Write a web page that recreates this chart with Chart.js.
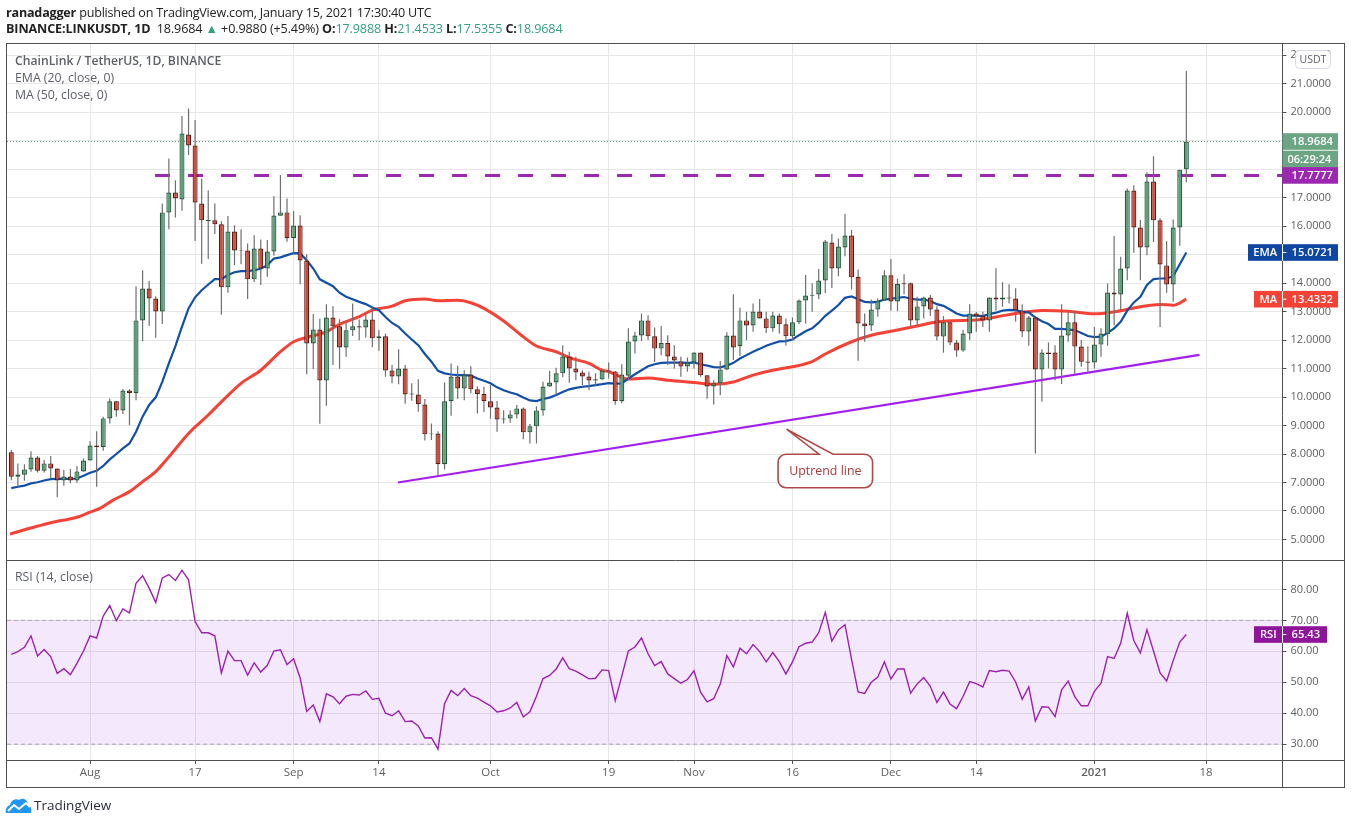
<!DOCTYPE html>
<html>
<head>
<meta charset="utf-8">
<style>
html,body{margin:0;padding:0;background:#fff;width:1351px;height:824px;overflow:hidden}
canvas{position:absolute;left:0;top:0}
.t{position:absolute;white-space:nowrap;font-family:"Open Sans",sans-serif;line-height:16px;z-index:2}
.hd{font-size:12.6px;color:#222}
.lg{font-size:12.3px;color:#5d6068}
.gr{color:#35a07c}
b{font-weight:700}
</style>
<script src="https://cdn.jsdelivr.net/npm/chart.js@4/dist/chart.umd.min.js"></script>
</head>
<body>
<canvas id="c" width="1351" height="824"></canvas>
<div class="t hd" style="left:6px;top:5px;letter-spacing:-0.21px"><b>ranadagger</b> published on TradingView.com, January 15, 2021 17:30:40 UTC</div>
<div class="t hd" style="left:6px;top:21px;letter-spacing:-0.12px"><b>BINANCE:LINKUSDT, 1D</b>&nbsp; 18.9684 <span class="gr">▲</span> +0.9880 (+5.49%) <b>O:</b><span class="gr">17.9888</span> <b>H:</b><span class="gr">21.4533</span> <b>L:</b><span class="gr">17.5355</span> <b>C:</b><span class="gr">18.9684</span></div>
<div class="t lg" style="left:15px;top:53px;font-weight:600;font-size:12.2px">ChainLink / TetherUS, 1D, BINANCE</div>
<div class="t lg" style="left:15px;top:70px">EMA (20, close, 0)</div>
<div class="t lg" style="left:15px;top:87px">MA (50, close, 0)</div>
<div class="t lg" style="left:15px;top:569px">RSI (14, close)</div>
<svg style="position:absolute;left:5px;top:797px;z-index:2" width="28" height="18" viewBox="0 0 28 18">
<path d="M1 16 C0 12 2 9 5 8 C6 3 11 1 14 3 C18 0 23 3 23 8 C26 9 27 13 26 16 Z" fill="#2196f3"/>
<path d="M3 14 L9 8 L14 12 L21 6 L25 10" fill="none" stroke="#fff" stroke-width="2"/>
</svg>
<div class="t" style="left:34px;top:797px;font-size:13.5px;color:#2a2e39">TradingView</div>
<script>
const tickDays=[12,28,43,56,73,91,104,119,134,147,165,182];
const tickLabels=['Aug','17','Sep','14','Oct','19','Nov','16','Dec','14','2021','18'];
const priceTicks=[5,6,7,8,9,10,11,12,13,14,15,16,17,18,19,20,21,22];
const rsiTicks=[30,40,50,60,70,80];

const opens=[8.06,7.20,7.27,7.46,7.88,7.41,7.67,7.49,7.07,7.21,
7.07,7.39,7.77,8.30,8.25,9.25,9.85,9.53,10.23,10.13,
12.69,13.81,13.46,13.00,16.48,17.18,16.93,19.21,18.83,16.79,
16.18,16.20,16.06,13.85,15.81,15.15,15.14,14.13,15.21,14.51,
15.11,16.36,16.48,15.57,16.02,14.79,11.88,12.37,10.58,12.79,
12.48,11.74,12.34,12.48,12.44,12.72,12.06,12.13,10.93,10.72,
11.00,10.09,10.09,9.74,8.69,8.72,7.64,9.85,10.72,10.30,
10.79,10.27,10.11,9.85,9.63,9.21,9.25,9.39,9.60,8.76,
8.97,9.53,10.37,10.51,10.83,11.42,11.00,10.86,10.72,10.58,
10.62,10.93,10.90,9.85,10.75,11.95,12.16,12.69,12.13,11.70,
11.90,11.42,11.25,11.07,11.21,11.56,10.76,10.37,10.48,10.97,
12.16,11.78,12.69,12.51,13.00,12.76,12.41,12.86,12.55,12.13,
12.62,13.39,13.55,13.60,14.09,15.42,14.51,15.25,15.67,14.22,
12.58,12.51,13.07,13.39,14.27,13.35,13.99,13.99,12.69,13.18,
13.49,13.07,12.12,12.62,11.91,11.63,12.23,12.93,12.86,12.69,
13.49,13.42,13.49,13.46,13.04,12.30,12.79,10.97,11.56,11.56,
10.97,12.16,12.62,11.77,11.25,11.21,11.84,12.20,13.67,13.60,
14.51,17.25,15.95,15.25,17.56,16.20,14.62,13.95,15.95,17.99];

const closes=[7.20,7.28,7.46,7.88,7.41,7.67,7.49,7.07,7.21,7.07,
7.39,7.77,8.30,8.25,9.25,9.85,9.53,10.23,10.13,12.69,
13.81,13.46,13.00,16.48,17.18,16.97,19.25,18.83,16.83,16.20,
16.21,16.06,13.85,15.81,15.14,15.13,14.13,15.21,14.51,15.11,
16.37,16.48,15.57,16.02,14.79,11.88,12.37,10.58,12.79,12.48,
11.74,12.34,12.48,12.44,12.72,12.06,12.13,10.93,10.72,11.00,
10.09,10.12,9.75,8.69,8.72,7.64,9.85,10.72,10.30,10.79,
10.27,10.11,9.85,9.63,9.21,9.25,9.39,9.60,8.76,8.97,
9.53,10.37,10.51,10.83,11.42,11.00,10.86,10.72,10.58,10.62,
10.93,10.90,9.85,10.79,11.95,12.16,12.69,12.13,11.70,11.90,
11.42,11.28,11.07,11.21,11.56,10.76,10.37,10.48,10.97,12.16,
11.74,12.69,12.51,13.00,12.76,12.41,12.86,12.55,12.13,12.62,
13.39,13.56,13.59,14.09,15.46,14.51,15.28,15.67,14.20,12.58,
12.48,13.07,13.39,14.27,13.35,13.97,13.96,12.69,13.18,13.49,
13.07,12.12,12.62,11.91,11.63,12.23,12.93,12.83,12.69,13.49,
13.42,13.49,13.46,13.04,12.30,12.79,10.97,11.56,11.51,10.97,
12.16,12.62,11.77,11.24,11.20,11.84,12.23,13.67,13.60,14.51,
17.25,15.95,15.25,17.56,16.20,14.65,13.95,15.95,17.98,18.9684];

const highs=[8.14,7.67,7.64,8.10,7.93,7.79,7.93,7.49,7.44,7.47,
7.58,7.84,8.45,8.80,9.31,9.95,9.86,10.28,10.27,13.89,
14.45,14.07,13.54,16.79,18.37,17.61,19.86,20.13,19.72,17.67,
17.26,16.79,16.17,16.35,16.03,15.89,15.39,15.68,15.53,15.51,
17.05,17.79,16.97,16.52,16.38,15.00,12.91,12.76,13.26,13.19,
12.73,12.64,13.28,12.72,12.93,13.19,12.35,12.23,11.12,11.68,
11.12,10.48,10.62,9.93,9.07,8.80,10.51,11.18,11.10,10.94,
11.08,10.38,10.36,10.42,9.86,9.54,9.54,9.72,9.63,9.05,
9.68,10.54,10.92,11.03,11.82,11.59,11.41,10.94,10.89,10.83,
10.98,11.21,10.91,11.15,12.41,12.29,12.93,12.87,12.44,12.49,
12.17,11.82,11.41,11.39,11.56,11.56,10.76,10.59,11.26,12.27,
13.61,13.13,12.99,13.28,13.44,12.99,12.99,12.93,12.76,12.79,
13.42,14.28,13.99,14.49,15.51,15.72,15.56,16.42,15.86,14.48,
12.93,13.42,13.46,14.45,14.84,14.16,14.31,14.02,13.52,13.52,
13.58,13.19,12.84,12.62,12.00,12.35,13.26,12.98,12.99,13.49,
14.52,14.03,13.96,13.82,13.26,12.84,12.79,11.68,11.91,11.82,
13.26,12.99,13.03,12.00,11.78,12.46,12.41,13.98,15.65,14.92,
17.32,17.43,16.21,17.89,18.45,16.27,15.47,16.23,17.98,21.4533];

const lows=[7.08,6.85,7.06,7.38,7.35,7.35,7.14,6.48,6.89,6.97,
6.99,7.38,7.77,6.85,8.11,9.07,9.31,9.40,9.01,9.89,
11.97,12.49,12.08,12.56,15.89,16.30,16.54,18.49,15.48,14.68,
14.84,15.72,12.89,13.66,14.63,14.66,13.44,14.04,13.93,14.22,
14.96,16.36,15.45,15.04,13.96,10.80,10.98,9.06,9.69,11.12,
10.99,11.41,12.14,11.99,12.09,11.75,11.62,10.71,10.48,10.45,
9.76,9.87,9.48,8.47,8.49,7.26,7.46,9.34,9.93,9.89,
10.13,9.42,9.47,9.24,8.78,9.07,9.10,9.25,8.52,8.37,
8.37,9.34,10.36,10.10,10.69,10.50,10.59,10.42,10.24,10.38,
10.59,10.65,9.73,9.78,10.59,11.53,11.97,12.00,11.23,11.47,
11.12,11.00,10.71,10.89,11.00,10.71,9.94,9.74,10.06,10.94,
11.30,11.44,11.99,12.29,12.76,12.25,12.29,12.23,11.81,12.00,
12.55,12.58,12.99,13.43,13.65,13.83,14.24,14.94,13.77,11.27,
11.94,12.32,12.82,13.38,13.03,13.01,13.61,12.49,12.49,12.76,
12.84,11.98,11.55,11.82,11.41,11.59,12.00,12.29,12.46,12.29,
13.03,13.17,13.28,12.64,12.11,11.80,8.02,9.83,11.00,10.59,
10.46,11.94,10.82,11.06,10.89,11.00,11.41,11.80,12.52,13.05,
14.10,15.06,14.10,14.98,15.44,12.46,13.66,13.34,15.31,17.5355];

const ema20=[6.80,6.85,6.89,6.97,7.01,7.07,7.12,7.13,7.13,7.13,
7.14,7.24,7.34,7.41,7.58,7.81,8.00,8.20,8.37,8.78,
9.31,9.72,9.99,10.53,11.18,11.79,12.47,13.11,13.50,13.75,
13.95,14.14,14.14,14.28,14.38,14.42,14.42,14.45,14.50,14.63,
14.86,14.90,14.98,15.05,15.04,14.80,14.51,14.13,14.01,13.89,
13.66,13.52,13.43,13.34,13.26,13.14,13.05,12.81,12.60,12.46,
12.23,12.02,11.82,11.51,11.24,10.92,10.83,10.79,10.77,10.77,
10.75,10.65,10.57,10.48,10.34,10.24,10.16,10.10,9.98,9.88,
9.86,9.93,9.98,10.07,10.18,10.27,10.32,10.36,10.38,10.42,
10.45,10.49,10.47,10.48,10.65,10.80,10.94,11.08,11.15,11.20,
11.21,11.21,11.21,11.20,11.21,11.15,11.10,11.05,11.04,11.10,
11.20,11.35,11.47,11.59,11.69,11.80,11.88,11.95,11.96,12.02,
12.17,12.31,12.41,12.61,12.85,13.03,13.23,13.48,13.53,13.43,
13.34,13.32,13.34,13.42,13.45,13.48,13.51,13.45,13.42,13.42,
13.37,13.26,13.20,13.07,12.93,12.86,12.86,12.86,12.84,12.91,
12.96,13.03,13.06,13.05,12.99,12.97,12.79,12.66,12.56,12.39,
12.39,12.37,12.35,12.25,12.14,12.10,12.12,12.25,12.41,12.64,
13.03,13.32,13.52,13.93,14.14,14.16,14.16,14.24,14.66,15.0721];

const maDays=[-0.2,3.4,6,10,12,13.5,15.5,18,20,22,24,27,30,32,35,38,41,43,45,48,50,53,55,58,60,63,65,68,70,72,75,78,80,83,85,88,90,91,94,97,100,104,107,110,113,116,119,122,124,128,131,135,138,140,143,147,150,154,157,161,165,168,172,175,177,179];
const ma50=[5.19,5.43,5.59,5.78,5.96,6.09,6.38,6.68,7.03,7.38,7.90,8.72,9.37,9.83,10.48,10.94,11.59,11.94,12.09,12.29,12.55,12.82,13.05,13.19,13.38,13.44,13.38,13.40,13.31,13.11,12.67,12.11,11.79,11.59,11.38,11.18,10.94,10.89,10.63,10.67,10.59,10.51,10.45,10.53,10.77,10.94,11.06,11.24,11.51,11.94,12.17,12.35,12.49,12.60,12.68,12.70,12.81,12.97,13.04,13.01,12.92,12.99,13.17,13.25,13.22,13.4332];

const rsi14=[59.0,59.9,61.3,65.0,58.5,60.6,58.3,52.9,54.4,52.5,
56.1,60.1,65.0,64.3,71.4,74.8,69.9,73.7,72.4,82.0,
84.4,80.4,75.8,83.7,84.8,82.9,86.2,83.1,69.6,66.0,
66.0,65.0,53.0,60.1,57.0,57.0,52.3,56.3,53.3,55.5,
60.1,60.5,55.7,57.6,51.4,40.6,42.7,37.3,46.3,45.3,
43.1,45.5,46.1,45.9,47.2,44.5,44.8,40.0,39.2,40.8,
37.3,37.5,35.9,32.0,32.1,28.4,43.1,47.4,45.7,48.0,
45.7,44.9,43.6,42.4,40.4,40.8,41.7,43.5,38.8,40.5,
45.5,51.2,52.2,54.3,57.9,54.4,53.6,52.4,51.1,51.3,
54.0,53.8,44.1,52.0,60.1,61.4,64.3,59.2,55.4,56.7,
52.7,51.2,49.7,50.9,53.7,46.8,43.7,44.7,49.4,58.6,
55.0,61.0,59.2,62.2,59.9,56.6,59.6,56.7,52.7,56.6,
61.5,62.6,63.0,66.0,72.6,63.3,66.9,68.6,57.4,46.9,
46.4,50.0,51.7,56.6,51.1,54.3,54.3,46.5,49.5,51.5,
48.7,43.5,46.8,43.0,41.5,45.5,50.2,49.6,48.5,53.8,
53.4,53.9,53.6,50.1,44.5,48.5,37.5,42.1,42.0,38.9,
47.6,50.4,45.4,42.4,42.4,47.1,49.7,58.3,57.7,62.6,
72.3,63.5,59.5,67.0,60.1,53.0,50.4,57.0,63.0,65.43];

const trendDays=[58.9,181];
const trendValues=[7.0,11.48];
const resistanceStart=21.9;
const resistanceValue=17.7777;
const lastPrice=18.9684;
const emaLast=15.0721, maLast=13.4332, rsiLast=65.43;
const calloutTip={day:118.1,value:8.87};
const rsiUpper=70, rsiLower=30;

const xMin=-0.656, xMax=193.65;
const UP='#5f9f7b', DN='#cf4a38', UPB='#225437', DNB='#5b1a13', WICK='#6f6f71';
const FONT='"Open Sans",sans-serif';
const isUp=i=>closes[i]>=opens[i];
const series=(days,vals)=>vals.map((v,i)=>({x:days?days[i]:i,y:v}));
const span=(v)=>[{x:xMin,y:v},{x:xMax,y:v}];

function tag(ctx,y,x0,x1,h,color,label,labelX0,text){
  const start=labelX0!=null?labelX0:x0;
  ctx.fillStyle=color;
  ctx.fillRect(start,y-h/2,x1-start,h);
  ctx.textBaseline='middle';ctx.fillStyle='#fff';
  ctx.font='600 11.2px '+FONT;
  if(label){
    ctx.fillRect(x0-0.5,y-h/2,1,h);
    ctx.textAlign='center';ctx.fillText(label,(labelX0+x0)/2,y+0.5);
    ctx.fillRect(x0,y-0.5,4,1);
  }
  ctx.textAlign='left';ctx.fillText(text,x0+9,y+0.5);
}

const overlay={
  id:'overlay',
  afterDraw(chart){
    const {ctx,chartArea:a,scales:{x,y,y2}}=chart;
    ctx.save();
    ctx.strokeStyle='#4f4f4f';ctx.lineWidth=1;
    ctx.strokeRect(6.5,43.5,1338,744);
    ctx.beginPath();
    ctx.moveTo(6.5,560.5);ctx.lineTo(1344.5,560.5);
    ctx.moveTo(6.5,760.5);ctx.lineTo(1344.5,760.5);
    ctx.moveTo(a.right,43.5);ctx.lineTo(a.right,787.5);
    ctx.stroke();
    const R=1338,L=a.right;
    const yP=y.getPixelForValue(lastPrice);
    tag(ctx,yP,L,R,16.6,'#6ba583',null,null,lastPrice.toFixed(4));
    ctx.fillStyle='#6ba583';ctx.fillRect(L,yP+9.2,R-L,16.8);
    ctx.fillStyle='#fff';ctx.font='600 11px '+FONT;ctx.textAlign='left';ctx.textBaseline='middle';
    ctx.fillText('06:29:24',L+5,yP+18);
    tag(ctx,y.getPixelForValue(resistanceValue),L,R,16.6,'#9c27b0',null,null,resistanceValue.toFixed(4));
    tag(ctx,y.getPixelForValue(emaLast),L,R,16.6,'#0d47a1','EMA',1248,emaLast.toFixed(4));
    tag(ctx,y.getPixelForValue(maLast),L,R,16.6,'#f44336','MA',1254,maLast.toFixed(4));
    tag(ctx,y2.getPixelForValue(rsiLast),L,1327,16.6,'#8e1599','RSI',1254,rsiLast.toFixed(2));
    ctx.beginPath();ctx.roundRect(1295.5,50.5,35,18,4);
    ctx.fillStyle='#fff';ctx.fill();ctx.strokeStyle='#d8dae6';ctx.stroke();
    ctx.fillStyle='#5d6068';ctx.font='10.5px '+FONT;ctx.textAlign='center';ctx.textBaseline='middle';
    ctx.fillText('USDT',1313,60);
    const tx=x.getPixelForValue(calloutTip.day),ty=y.getPixelForValue(calloutTip.value);
    const bx=tx-8.5,by=ty+25,bw=94.5,bh=33.5,rad=8;
    ctx.beginPath();
    ctx.moveTo(bx+rad,by);
    ctx.lineTo(tx+32.5,by);ctx.lineTo(tx,ty);ctx.lineTo(tx+46.5,by);
    ctx.lineTo(bx+bw-rad,by);ctx.arcTo(bx+bw,by,bx+bw,by+rad,rad);
    ctx.lineTo(bx+bw,by+bh-rad);ctx.arcTo(bx+bw,by+bh,bx+bw-rad,by+bh,rad);
    ctx.lineTo(bx+rad,by+bh);ctx.arcTo(bx,by+bh,bx,by+bh-rad,rad);
    ctx.lineTo(bx,by+rad);ctx.arcTo(bx,by,bx+rad,by,rad);
    ctx.closePath();
    ctx.fillStyle='#fff';ctx.fill();
    ctx.strokeStyle='#b04a4a';ctx.lineWidth=1.6;ctx.stroke();
    ctx.fillStyle='#a93a3a';ctx.font='12.4px '+FONT;ctx.textAlign='center';ctx.textBaseline='middle';
    ctx.fillText('Uptrend line',bx+bw/2,by+bh/2+0.5);
    ctx.restore();
  }
};

new Chart(document.getElementById('c'),{
  type:'bar',
  plugins:[overlay],
  data:{datasets:[
    {type:'line',label:'RSI band',xAxisID:'x',yAxisID:'y2',data:span(rsiUpper),borderColor:'#b3a3ba',borderWidth:1,borderDash:[4,3],pointRadius:0,fill:'+1',backgroundColor:'rgba(150,30,240,0.1)',order:9},
    {type:'line',label:'RSI low',xAxisID:'x',yAxisID:'y2',data:span(rsiLower),borderColor:'#b3a3ba',borderWidth:1,borderDash:[4,3],pointRadius:0,order:9},
    {type:'line',label:'RSI',xAxisID:'x',yAxisID:'y2',data:series(null,rsi14),borderColor:'#9a22ad',borderWidth:1.4,pointRadius:0,tension:0,order:5},
    {type:'line',label:'Last',xAxisID:'x',yAxisID:'y',data:span(lastPrice),borderColor:'#5f9a78',borderWidth:1,borderDash:[1,2],pointRadius:0,order:8},
    {type:'line',label:'Resistance',xAxisID:'x',yAxisID:'y',data:[{x:resistanceStart,y:resistanceValue},{x:xMax,y:resistanceValue}],borderColor:'#9c27b0',borderWidth:3,borderDash:[15,18],pointRadius:0,order:7},
    {type:'line',label:'Uptrend',xAxisID:'x',yAxisID:'y',data:series(trendDays,trendValues),borderColor:'#a31ef0',borderWidth:2.2,pointRadius:0,order:6},
    {type:'line',label:'MA',xAxisID:'x',yAxisID:'y',data:series(maDays,ma50),borderColor:'#f44336',borderWidth:3,pointRadius:0,cubicInterpolationMode:'monotone',order:5},
    {type:'line',label:'EMA',xAxisID:'x',yAxisID:'y',data:series(null,ema20),borderColor:'#1250a8',borderWidth:2.2,pointRadius:0,tension:0,order:4},
    {type:'bar',label:'Wick',xAxisID:'x',yAxisID:'y',data:highs.map((h,i)=>({x:i,y:[lows[i],h]})),backgroundColor:WICK,borderWidth:0,barThickness:1.2,grouped:false,inflateAmount:0,order:3},
    {type:'bar',label:'Candle',xAxisID:'x',yAxisID:'y',data:opens.map((o,i)=>({x:i,y:[o,closes[i]]})),
      backgroundColor:c=>isUp(c.dataIndex)?UP:DN,borderColor:c=>isUp(c.dataIndex)?UPB:DNB,borderWidth:1.2,borderSkipped:false,barThickness:5,grouped:false,inflateAmount:0,order:1}
  ]},
  options:{
    responsive:false,animation:false,devicePixelRatio:1,
    events:[],
    layout:{padding:{left:7,top:44,right:6.5,bottom:37}},
    plugins:{legend:{display:false},tooltip:{enabled:false},title:{display:false}},
    scales:{
      x:{type:'linear',position:'bottom',min:xMin,max:xMax,offset:false,
        afterFit(s){s.height=27},
        afterBuildTicks(s){s.ticks=tickDays.map(v=>({value:v}))},
        border:{display:false},
        grid:{offset:false,color:'#e7e7e7',lineWidth:1,tickColor:'#4f4f4f',tickLength:4},
        ticks:{autoSkip:false,maxRotation:0,padding:2,color:'#5f5f5f',
          font:c=>({family:FONT,size:11.5,weight:c.tick&&c.tick.label==='2021'?'600':'400'}),
          callback:(v,i)=>tickLabels[i]}
      },
      y:{type:'linear',axis:'y',position:'right',stack:'rows',stackWeight:516,min:4.28,max:22.39,
        afterFit(s){s.width=62},
        afterBuildTicks(s){s.ticks=priceTicks.map(v=>({value:v}))},
        border:{display:false},
        grid:{color:'#e7e7e7',lineWidth:1,tickColor:'#4f4f4f',tickLength:4},
        ticks:{autoSkip:false,padding:4,color:'#5f5f5f',font:{family:FONT,size:11},callback:v=>Number(v).toFixed(4)}
      },
      y2:{type:'linear',axis:'y',position:'right',stack:'rows',stackWeight:200,min:24.9,max:89.5,
        afterFit(s){s.width=62},
        afterBuildTicks(s){s.ticks=rsiTicks.map(v=>({value:v}))},
        border:{display:false},
        grid:{color:'#e7e7e7',lineWidth:1,tickColor:'#4f4f4f',tickLength:4},
        ticks:{autoSkip:false,padding:4,color:'#5f5f5f',font:{family:FONT,size:11},callback:v=>Number(v).toFixed(2)}
      }
    }
  }
});
</script>
</body>
</html>
